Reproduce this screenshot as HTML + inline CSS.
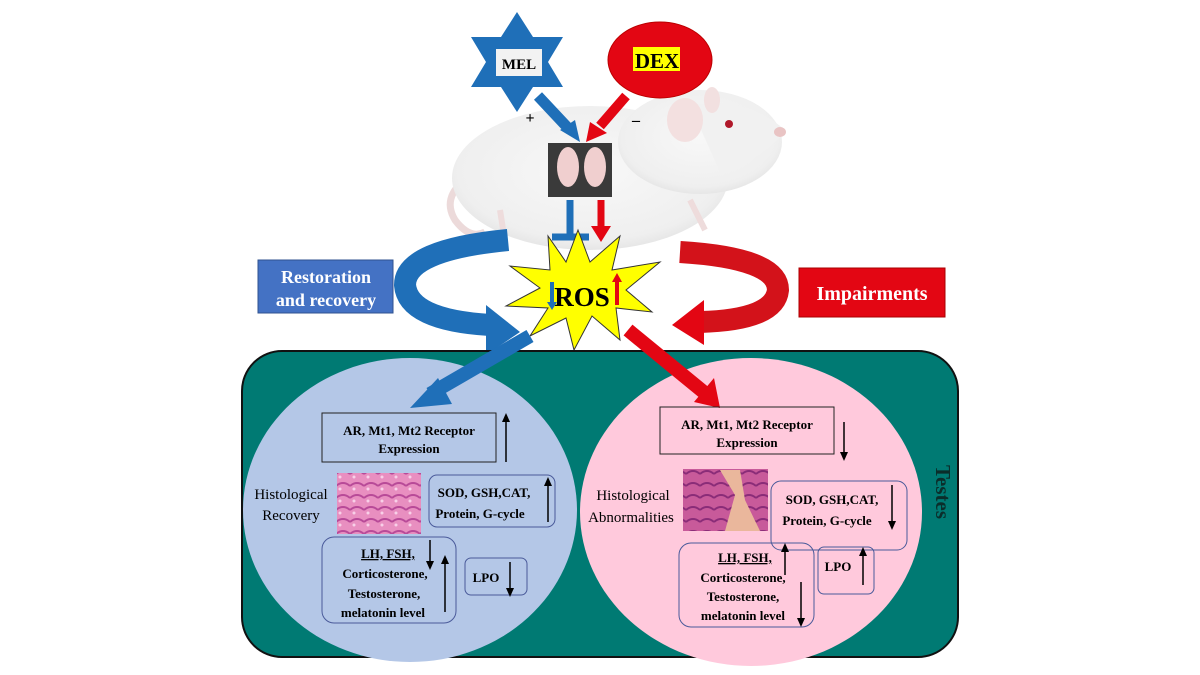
<!DOCTYPE html>
<html><head><meta charset="utf-8"><style>
body{margin:0;background:#fff}
svg{display:block}
text{font-family:"Liberation Serif",serif}
</style></head><body>
<svg width="1200" height="675" viewBox="0 0 1200 675" xmlns="http://www.w3.org/2000/svg">
<defs>
<radialGradient id="rat" cx="50%" cy="45%" r="60%"><stop offset="0" stop-color="#f8f8f8"/><stop offset="0.8" stop-color="#efefef"/><stop offset="1" stop-color="#e0e0e0"/></radialGradient>
<pattern id="h1" width="14" height="12" patternUnits="userSpaceOnUse"><rect width="14" height="12" fill="#e88fc0"/><path d="M0 6 Q7 0 14 6" stroke="#b84a98" stroke-width="2" fill="none"/><circle cx="4" cy="9" r="1.5" fill="#f8d0e8"/></pattern>
<pattern id="h2" width="14" height="12" patternUnits="userSpaceOnUse"><rect width="14" height="12" fill="#c85a9a"/><path d="M0 6 Q7 0 14 6" stroke="#8a2c78" stroke-width="2" fill="none"/></pattern>
</defs>
<!-- rat -->
<path d="M472 175 Q440 195 455 220 Q470 240 485 232" stroke="#ecdada" stroke-width="7" fill="none"/>
<ellipse cx="590" cy="178" rx="138" ry="72" fill="url(#rat)"/>
<ellipse cx="700" cy="142" rx="82" ry="52" fill="url(#rat)"/>
<path d="M690 105 Q745 95 785 130 Q770 155 720 172 Z" fill="#f1f1f1"/>
<ellipse cx="685" cy="120" rx="18" ry="22" fill="#f3e0e0"/>
<ellipse cx="712" cy="100" rx="8" ry="13" fill="#f2e0e0"/>
<circle cx="729" cy="124" r="4" fill="#b0182a"/>
<ellipse cx="780" cy="132" rx="6" ry="5" fill="#e9c4c4"/>
<path d="M500 210 L505 242 M690 200 L705 230" stroke="#eedcdc" stroke-width="6"/>
<!-- MEL star -->
<polygon points="517,12 533,37 563,37 548,62 563,87 533,87 517,112 501,87 471,87 486,62 471,37 501,37" fill="#1f6fb8"/>
<rect x="496" y="49" width="46" height="27" fill="#f2f2f2"/>
<text x="519" y="69" font-size="15" font-weight="bold" text-anchor="middle">MEL</text>
<!-- DEX -->
<ellipse cx="660" cy="60" rx="52" ry="38" fill="#e30613" stroke="#b00" stroke-width="1"/>
<rect x="633" y="47" width="47" height="24" fill="#ffff00"/>
<text x="657" y="68" font-size="21" font-weight="bold" text-anchor="middle">DEX</text>
<!-- arrows to testis -->
<line x1="538" y1="96" x2="568" y2="128" stroke="#1f6fb8" stroke-width="11"/>
<polygon points="560,130 580,142 575,120" fill="#1f6fb8"/>
<line x1="626" y1="96" x2="600" y2="126" stroke="#e30613" stroke-width="10"/>
<polygon points="590,122 586,142 607,133" fill="#e30613"/>
<text x="530" y="123" font-size="16" font-weight="bold" font-family="Liberation Sans,sans-serif" text-anchor="middle">+</text>
<text x="636" y="125" font-size="16" font-weight="bold" font-family="Liberation Sans,sans-serif" text-anchor="middle">–</text>
<!-- testis photo -->
<rect x="548" y="143" width="64" height="54" fill="#3a3a3a"/>
<ellipse cx="568" cy="167" rx="11" ry="20" fill="#f0cfcf"/>
<ellipse cx="595" cy="167" rx="11" ry="20" fill="#f0cfcf"/>
<!-- T and red arrow down -->
<line x1="570" y1="200" x2="570" y2="236" stroke="#1f6fb8" stroke-width="7"/>
<line x1="552" y1="237" x2="589" y2="237" stroke="#1f6fb8" stroke-width="7"/>
<line x1="601" y1="200" x2="601" y2="228" stroke="#e30613" stroke-width="7"/>
<polygon points="591,226 611,226 601,242" fill="#e30613"/>
<!-- blue curved arrow -->
<path d="M508 240 Q405 250 405 285 Q408 320 490 325" stroke="#1f6fb8" stroke-width="22" fill="none"/>
<polygon points="486,305 520,332 486,355" fill="#1f6fb8"/>
<!-- red curved arrow -->
<path d="M680 252 Q778 258 778 290 Q775 320 700 322" stroke="#d3121a" stroke-width="22" fill="none"/>
<polygon points="704,300 672,325 704,345" fill="#e30613"/>
<!-- ROS star -->
<polygon points="578,230 590,262 620,236 612,270 660,262 626,290 652,312 616,308 620,340 592,316 574,350 566,318 530,336 548,308 506,306 540,288 510,266 550,270 548,236 566,262" fill="#ffff00" stroke="#333" stroke-width="1"/>
<text x="582" y="306" font-size="27" font-weight="bold" text-anchor="middle">ROS</text>
<line x1="552" y1="282" x2="552" y2="303" stroke="#1f6fb8" stroke-width="4"/>
<polygon points="547,302 557,302 552,310" fill="#1f6fb8"/>
<line x1="617" y1="281" x2="617" y2="305" stroke="#e30613" stroke-width="4"/>
<polygon points="612,282 622,282 617,273" fill="#e30613"/>
<!-- labels -->
<rect x="258" y="260" width="135" height="53" fill="#4472c4" stroke="#2f528f"/>
<text x="326" y="283" font-size="18" font-weight="bold" fill="#fff" text-anchor="middle">Restoration</text>
<text x="326" y="306" font-size="18" font-weight="bold" fill="#fff" text-anchor="middle">and recovery</text>
<rect x="799" y="268" width="146" height="49" fill="#e30613" stroke="#a00"/>
<text x="872" y="300" font-size="20" font-weight="bold" fill="#fff" text-anchor="middle">Impairments</text>
<!-- teal box -->
<rect x="242" y="351" width="716" height="306" rx="40" fill="#007a73" stroke="#111" stroke-width="2"/>
<ellipse cx="410" cy="510" rx="167" ry="152" fill="#b4c7e7"/>
<ellipse cx="751" cy="512" rx="171" ry="154" fill="#ffc9dc"/>
<!-- big arrows into circles -->
<line x1="530" y1="336" x2="430" y2="394" stroke="#1f6fb8" stroke-width="14"/>
<polygon points="438,378 410,408 452,404" fill="#1f6fb8"/>
<line x1="628" y1="330" x2="706" y2="394" stroke="#e30613" stroke-width="14"/>
<polygon points="694,402 720,408 714,378" fill="#e30613"/>
<text x="936" y="492" font-size="21" font-weight="bold" fill="#0b2e2b" text-anchor="middle" transform="rotate(90 936 492)">Testes</text>
<g font-weight="bold" font-size="13" text-anchor="middle">
<!-- left -->
<rect x="322" y="413" width="174" height="49" fill="none" stroke="#222"/>
<text x="409" y="435">AR, Mt1, Mt2 Receptor</text><text x="409" y="453">Expression</text>
<rect x="337" y="473" width="84" height="61" fill="url(#h1)"/>
<rect x="429" y="475" width="126" height="52" rx="8" fill="none" stroke="#4a5a9a"/>
<text x="484" y="497">SOD, GSH,CAT,</text><text x="480" y="518">Protein,  G-cycle</text>
<rect x="322" y="537" width="134" height="86" rx="12" fill="none" stroke="#4a5a9a"/>
<text x="388" y="558" text-decoration="underline">LH, FSH,</text>
<text x="385" y="578">Corticosterone,</text><text x="384" y="598">Testosterone,</text><text x="383" y="617">melatonin  level</text>
<rect x="465" y="558" width="62" height="37" rx="6" fill="none" stroke="#4a5a9a"/>
<text x="486" y="582">LPO</text>
<!-- right -->
<rect x="660" y="407" width="174" height="47" fill="none" stroke="#222"/>
<text x="747" y="429">AR, Mt1, Mt2 Receptor</text><text x="747" y="447">Expression</text>
<rect x="683" y="469" width="85" height="62" fill="url(#h2)"/>
<path d="M720 470 L735 495 L725 531 L760 531 L745 500 L740 470 Z" fill="#eab79c"/>
<rect x="771" y="481" width="136" height="69" rx="10" fill="none" stroke="#4a5a9a"/>
<text x="832" y="504">SOD, GSH,CAT,</text><text x="827" y="525">Protein,  G-cycle</text>
<rect x="679" y="543" width="135" height="84" rx="12" fill="none" stroke="#4a5a9a"/>
<text x="745" y="562" text-decoration="underline">LH, FSH,</text>
<text x="743" y="582">Corticosterone,</text><text x="743" y="601">Testosterone,</text><text x="743" y="620">melatonin  level</text>
<rect x="818" y="547" width="56" height="47" rx="6" fill="none" stroke="#4a5a9a"/>
<text x="838" y="571">LPO</text>
</g>
<g font-size="15" text-anchor="middle">
<text x="291" y="499">Histological</text><text x="291" y="520">Recovery</text>
<text x="633" y="500">Histological</text><text x="631" y="522">Abnormalities</text>
</g>
<!-- thin arrows -->
<g stroke="#000" stroke-width="1.5">
<line x1="506" y1="462" x2="506" y2="418"/><line x1="548" y1="522" x2="548" y2="482"/>
<line x1="430" y1="540" x2="430" y2="565"/><line x1="445" y1="612" x2="445" y2="560"/>
<line x1="510" y1="562" x2="510" y2="592"/>
<line x1="844" y1="422" x2="844" y2="456"/><line x1="892" y1="485" x2="892" y2="525"/>
<line x1="785" y1="575" x2="785" y2="548"/><line x1="801" y1="582" x2="801" y2="622"/>
<line x1="863" y1="585" x2="863" y2="552"/>
</g>
<g fill="#000">
<polygon points="502,422 510,422 506,413"/><polygon points="544,486 552,486 548,477"/>
<polygon points="426,561 434,561 430,570"/><polygon points="441,564 449,564 445,555"/>
<polygon points="506,588 514,588 510,597"/>
<polygon points="840,452 848,452 844,461"/><polygon points="888,521 896,521 892,530"/>
<polygon points="781,552 789,552 785,543"/><polygon points="797,618 805,618 801,627"/>
<polygon points="859,556 867,556 863,547"/>
</g>
</svg>
</body></html>
